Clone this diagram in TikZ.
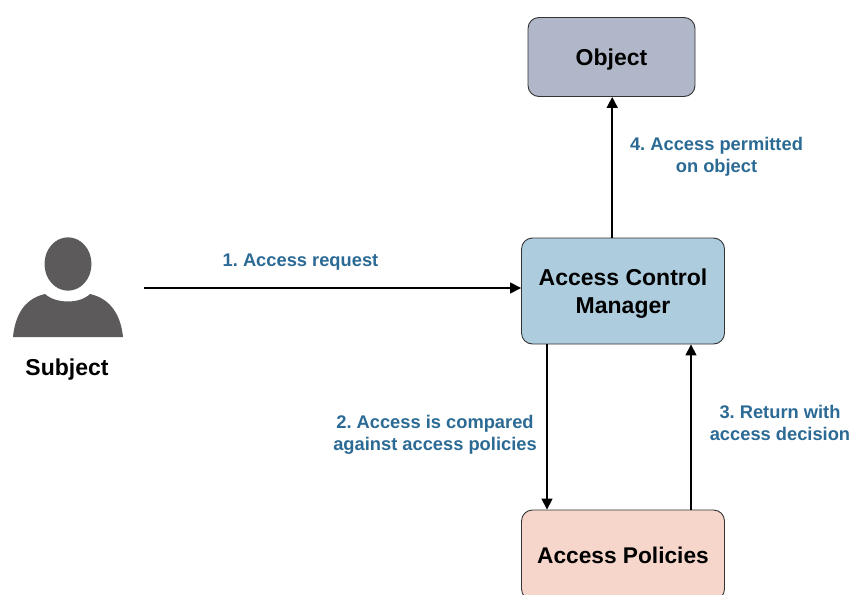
\documentclass[tikz,border=0pt]{standalone}
\usepackage{fontspec}
\setmainfont{Liberation Sans}
\frenchspacing
\usetikzlibrary{arrows.meta}
\definecolor{objc}{HTML}{B0B7C9}
\definecolor{acmc}{HTML}{ADCDDF}
\definecolor{polc}{HTML}{F6D5CA}
\definecolor{lab}{HTML}{2B6A94}
\definecolor{pers}{HTML}{5C5A5B}
\newcommand{\dropline}[1]{\raisebox{-3pt}[\height][\depth]{#1}}
\tikzset{x=1pt,y=-1pt,
 box/.style={draw=black!80,line width=0.9pt,rounded corners=11pt,inner sep=0pt,align=center,font=\bfseries\fontsize{23}{28}\selectfont},
 lbl/.style={text=lab,align=center,font=\bfseries\fontsize{18.3}{22}\selectfont,inner sep=0pt},
 conn/.style={draw=black,line width=1.6pt,-{Triangle[length=11pt,width=11pt]}}}
\begin{document}
\begin{tikzpicture}
\path[use as bounding box] (0,0) rectangle (853,594);
\node[box,fill=objc,minimum width=167pt,minimum height=79pt] (obj) at (611.5,57) {\dropline{Object}};
\node[box,fill=acmc,minimum width=203pt,minimum height=106pt] (acm) at (623,291) {\dropline{Access Control}\\\dropline{Manager}};
\node[box,fill=polc,minimum width=203pt,minimum height=90pt] (pol) at (623,555) {\fontsize{22.7}{28}\selectfont Access Policies};
\fill[pers] (68,264) ellipse (23.5pt and 26.7pt);
\fill[pers] (13,337) .. controls (15,317) and (23,299) .. (45,294) .. controls (56,304) and (80,304) .. (90,294) .. controls (112,299) and (121,317) .. (123,337) -- cycle;
\node[inner sep=0pt,font=\bfseries\fontsize{23}{28}\selectfont] (subj) at (67,369.5) {Subject};
\coordinate (s) at (144,288);
\draw[conn] (s) -- (acm.west |- s);
\coordinate (a4) at (612.2,238);
\draw[conn] (a4) -- (a4 |- obj.south);
\coordinate (a2) at (547,344);
\draw[conn] (a2) -- (a2 |- pol.north);
\coordinate (a3) at (691,510);
\draw[conn] (a3) -- (a3 |- acm.south);
\node[lbl] (l1) at (300.5,262.5) {1. Access request};
\node[lbl] (l2) at (435,435) {2. Access is compared\\against access policies};
\node[lbl] (l3) at (780,423) {3. Return with\\access decision};
\node[lbl] (l4) at (716.5,157) {4. Access permitted\\on object};
\end{tikzpicture}
\end{document}
